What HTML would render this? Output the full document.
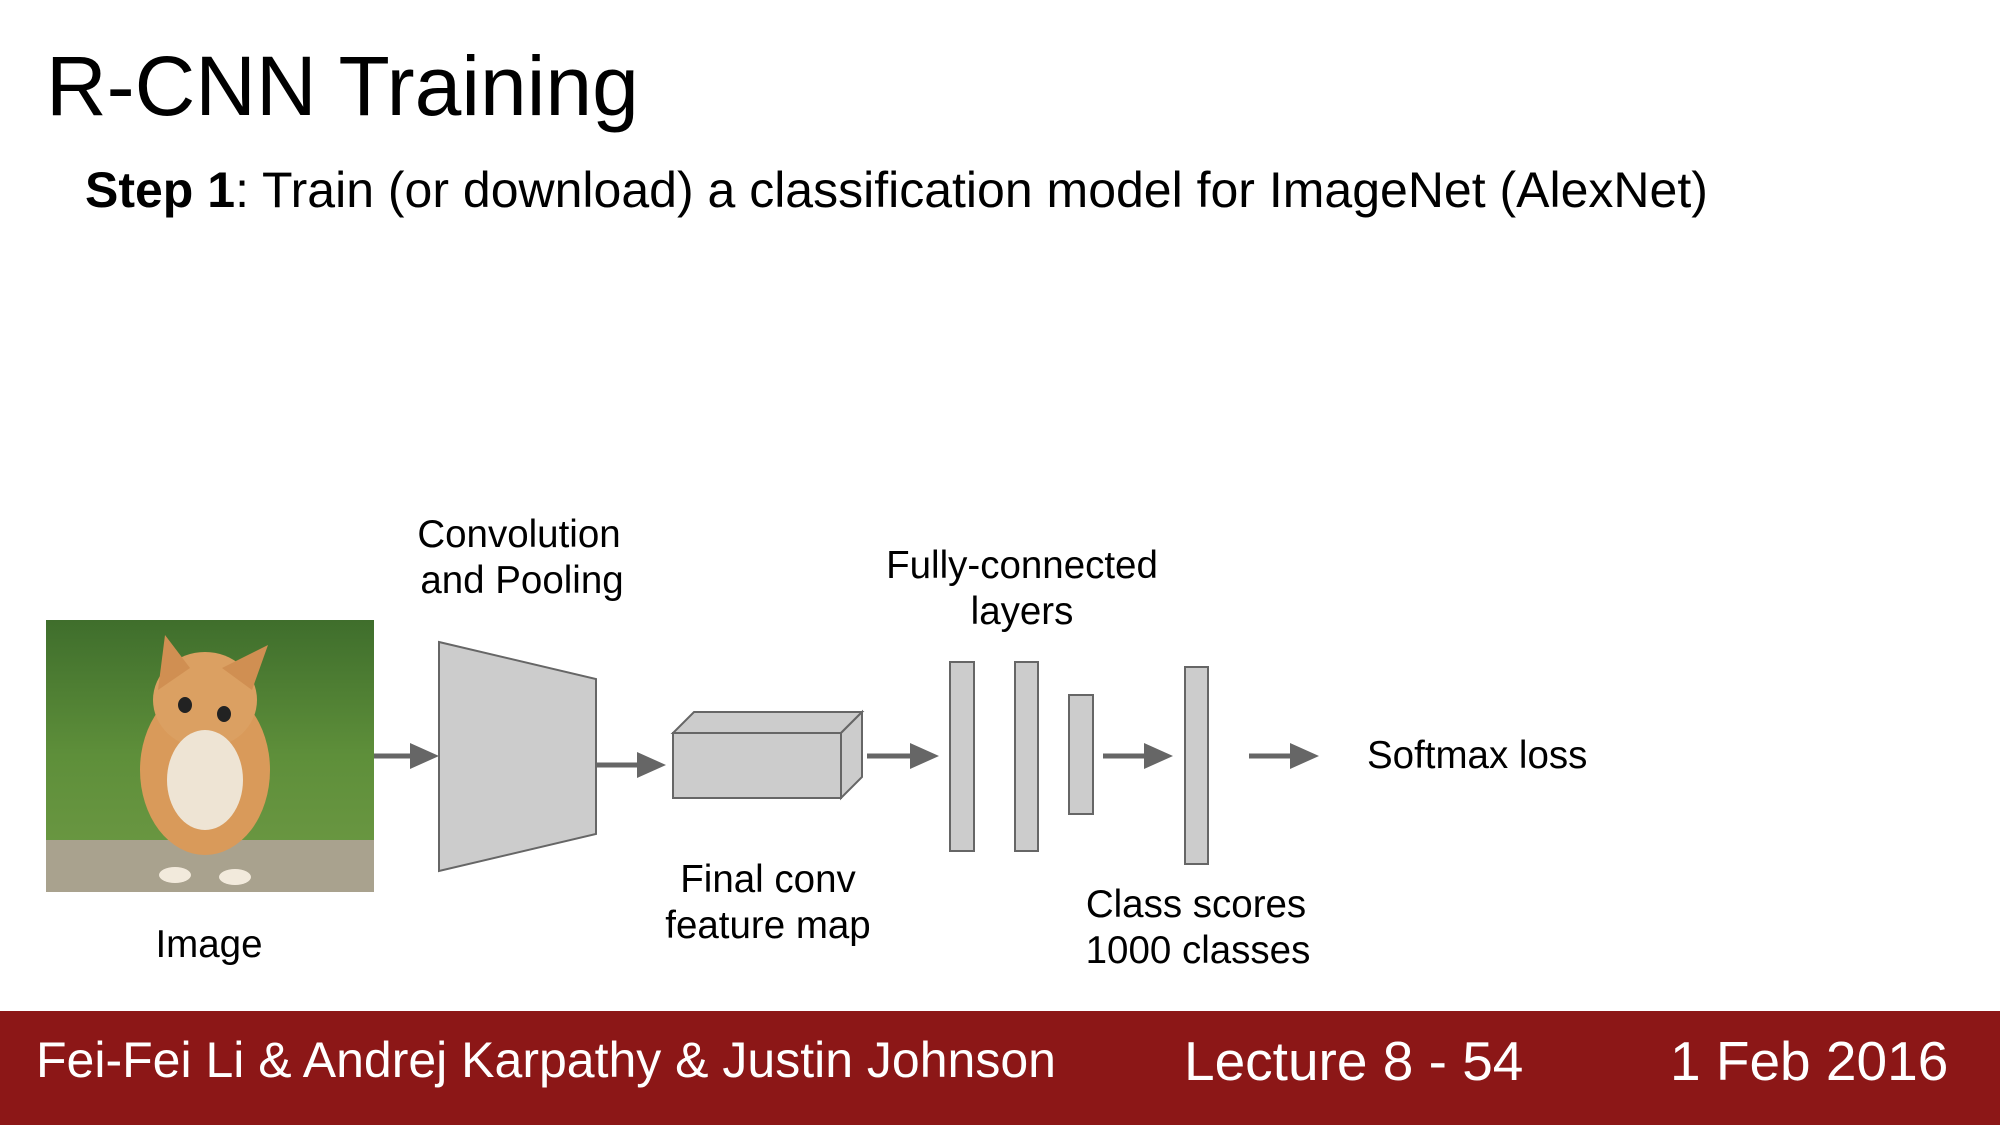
<!DOCTYPE html>
<html><head><meta charset="utf-8"><style>
html,body{margin:0;padding:0;background:#fff;}
body{width:2000px;height:1125px;overflow:hidden;position:relative;font-family:"Liberation Sans",Arial,sans-serif;}
</style></head><body>
<svg width="2000" height="1125" viewBox="0 0 2000 1125" xmlns="http://www.w3.org/2000/svg" style="position:absolute;left:0;top:0">
<defs>
<linearGradient id="grass" x1="0" y1="0" x2="0" y2="1">
<stop offset="0" stop-color="#3f6e2c"/><stop offset="0.5" stop-color="#5e8f3a"/><stop offset="1" stop-color="#6f9a45"/>
</linearGradient>
</defs>
<text x="46" y="115" font-size="84" fill="#000" font-family="Liberation Sans, sans-serif">R-CNN Training</text>
<text x="85" y="207" font-size="50" fill="#000" font-family="Liberation Sans, sans-serif"><tspan font-weight="bold">Step 1</tspan>: Train (or download) a classification model for ImageNet (AlexNet)</text>

<rect x="46" y="620" width="328" height="272" fill="url(#grass)"/>
<rect x="46" y="840" width="328" height="52" fill="#a9a28e"/>
<ellipse cx="205" cy="770" rx="65" ry="85" fill="#d99a5a"/>
<ellipse cx="205" cy="700" rx="52" ry="48" fill="#dba062"/>
<polygon points="158,690 165,635 190,668" fill="#d08f52"/>
<polygon points="252,690 268,645 222,668" fill="#d08f52"/>
<ellipse cx="205" cy="780" rx="38" ry="50" fill="#eee4d4"/>
<ellipse cx="185" cy="705" rx="7" ry="8" fill="#222"/>
<ellipse cx="224" cy="714" rx="7" ry="8" fill="#222"/>
<ellipse cx="175" cy="875" rx="16" ry="8" fill="#f2eadc"/>
<ellipse cx="235" cy="877" rx="16" ry="8" fill="#f2eadc"/>

<g fill="#cccccc" stroke="#666" stroke-width="2">
<polygon points="439,642 596,679 596,834 439,871"/>
<polygon points="673,733 841,733 862,712 694,712"/>
<polygon points="841,733 862,712 862,777 841,798"/>
<rect x="673" y="733" width="168" height="65"/>
<rect x="950" y="662" width="24" height="189"/>
<rect x="1015" y="662" width="23" height="189"/>
<rect x="1069" y="695" width="24" height="119"/>
<rect x="1185" y="667" width="23" height="197"/>
</g>

<g stroke="#666" stroke-width="5">
<line x1="374" y1="756" x2="415" y2="756"/>
<line x1="596" y1="765" x2="642" y2="765"/>
<line x1="867" y1="756" x2="915" y2="756"/>
<line x1="1103" y1="756" x2="1149" y2="756"/>
<line x1="1249" y1="756" x2="1295" y2="756"/>
</g>
<g fill="#666">
<polygon points="410,743 439,756 410,769"/>
<polygon points="637,752 666,765 637,778"/>
<polygon points="910,743 939,756 910,769"/>
<polygon points="1144,743 1173,756 1144,769"/>
<polygon points="1290,743 1319,756 1290,769"/>
</g>

<g font-size="38.5" fill="#000" font-family="Liberation Sans, sans-serif" text-anchor="middle">
<text x="519" y="547">Convolution</text>
<text x="522" y="593">and Pooling</text>
<text x="1022" y="578">Fully-connected</text>
<text x="1022" y="624">layers</text>
<text x="768" y="892">Final conv</text>
<text x="768" y="938">feature map</text>
<text x="1196" y="917">Class scores</text>
<text x="1198" y="963">1000 classes</text>
<text x="209" y="957">Image</text>
<text x="1367" y="768" text-anchor="start">Softmax loss</text>
</g>

<rect x="0" y="1011" width="2000" height="114" fill="#8c1717"/>
<g fill="#fff" font-family="Liberation Sans, sans-serif">
<text x="36" y="1077" font-size="50">Fei-Fei Li &amp; Andrej Karpathy &amp; Justin Johnson</text>
<text x="1184" y="1080" font-size="55">Lecture 8 - 54</text>
<text x="1670" y="1080" font-size="55">1 Feb 2016</text>
</g>
</svg>
</body></html>
